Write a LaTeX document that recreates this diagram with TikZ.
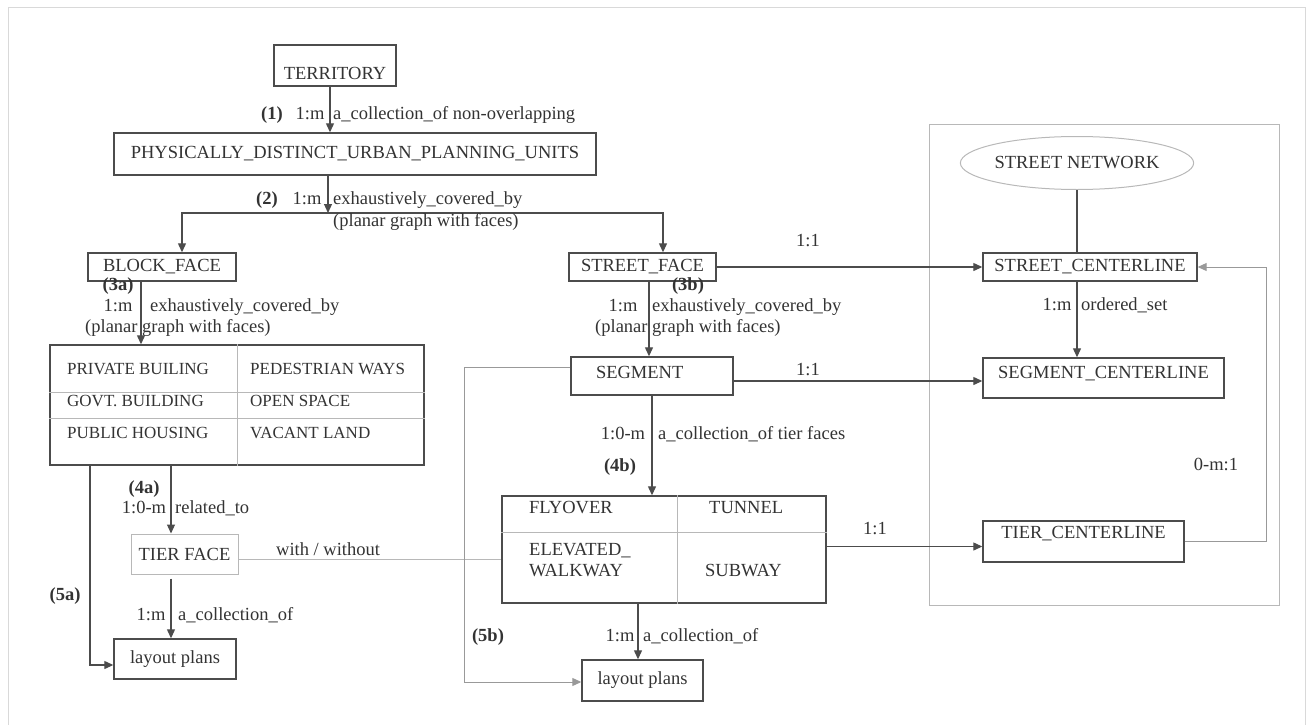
\documentclass[tikz,border=0pt]{standalone}
\usepackage{fontspec}
\setmainfont{Liberation Serif}
\usetikzlibrary{arrows.meta,shapes.geometric,positioning,calc}

\definecolor{boxline}{gray}{0.3}
\definecolor{paleline}{gray}{0.72}
\definecolor{inktext}{gray}{0.2}

\begin{document}
\begin{tikzpicture}[x=1pt, y=-1pt, font=\fontsize{18.5}{21}\selectfont, text=inktext,
    box/.style={rectangle, draw=boxline, line width=1.4pt, inner sep=0pt},
    palebox/.style={rectangle, draw=paleline, line width=1pt, inner sep=0pt},
    lbl/.style={inner sep=0pt, text height=1.5ex, text depth=.25ex},
    num/.style={lbl, font=\fontsize{18.5}{21}\selectfont\bfseries},
    cell/.style={lbl, anchor=west},
    arr/.style={draw=boxline, line width=1.2pt, -{Triangle[length=9pt,width=8pt]}},
    palearr/.style={draw=black!40, line width=1pt, -{Triangle[length=9pt,width=8pt]}},
    greyline/.style={draw=paleline, line width=1pt}]

    \useasboundingbox (0,0) rectangle (1306,725);
    \draw[draw=black!15, line width=1pt] (8,725) -- (8,8) -- (1305,8) -- (1305,725);

    % Top of the hierarchy
    \node[box, minimum width=122pt, minimum height=41pt, text height=27pt, text depth=0pt] (territory) at (335,65.5) {TERRITORY};
    \node[box, minimum width=482pt, minimum height=42pt] (physunits) at (355,154) {PHYSICALLY\_DISTINCT\_URBAN\_PLANNING\_UNITS};
    \node[box, minimum width=148pt, minimum height=28pt] (blockface) at (162,267) {BLOCK\_FACE};
    \node[box, minimum width=147pt, minimum height=28pt] (streetface) at (642.5,267) {STREET\_FACE};
    \node[box, minimum height=38pt, text height=12.5pt, text depth=8.3pt, text width=112pt, inner xsep=25pt, align=left] (segment) at (652,376) {SEGMENT};

    % Street network frame
    \node[palebox, minimum width=350pt, minimum height=481pt] (netframe) at (1104,364.5) {};
    \node[ellipse, draw=paleline, line width=1pt, minimum width=214pt, minimum height=53pt, inner sep=0pt] (streetnet) at (1077,163) {STREET NETWORK};
    \node[box, minimum width=214pt, minimum height=28pt] (streetcl) at (1090,267) {STREET\_CENTERLINE};
    \node[box, minimum width=241pt, minimum height=40pt, text height=13pt, text depth=13pt] (segcl) at (1103.5,378) {SEGMENT\_CENTERLINE};
    \node[box, minimum width=201pt, minimum height=41pt, inner ysep=2pt, text height=12.5pt, text depth=19.3pt] (tiercl) at (1083.5,541.5) {TIER\_CENTERLINE};

    % Block side table
    \node[box, minimum width=374pt, minimum height=120pt] (landuse) at (237,405) {};
    \draw[greyline] ($(landuse.north west)+(188,0)$) -- ($(landuse.south west)+(188,0)$);
    \draw[greyline] ($(landuse.north west)+(0,48)$) -- ($(landuse.north east)+(0,48)$);
    \draw[greyline] ($(landuse.north west)+(0,74)$) -- ($(landuse.north east)+(0,74)$);
    \begin{scope}[every node/.append style={font=\fontsize{17}{20}\selectfont}]
    \node[cell] (private) at (67,372) {PRIVATE BUILING};
    \node[cell] (pedestrian) at (250,372) {PEDESTRIAN WAYS};
    \node[cell] (govt) at (67,404) {GOVT. BUILDING};
    \node[cell] (openspace) at (250,404) {OPEN SPACE};
    \node[cell] (housing) at (67,436) {PUBLIC HOUSING};
    \node[cell] (vacant) at (250,436) {VACANT LAND};
    \end{scope}

    \node[palebox, minimum width=107pt, minimum height=40pt] (tierface) at (184.5,554) {TIER FACE};
    \node[box, minimum width=122pt, minimum height=40pt] (plansa) at (175,659) {layout plans};

    % Street side table
    \node[box, minimum width=324pt, minimum height=107pt] (tiers) at (664,549.5) {};
    \draw[greyline] ($(tiers.north west)+(176,0)$) -- ($(tiers.south west)+(176,0)$);
    \draw[greyline] ($(tiers.north west)+(0,37)$) -- ($(tiers.north east)+(0,37)$);
    \node[cell] (flyover) at (529,511) {FLYOVER};
    \node[cell] (tunnel) at (709,511) {TUNNEL};
    \node[cell] (elevated) at (529,553) {ELEVATED\_};
    \node[cell] (walkway) at (529,574) {WALKWAY};
    \node[cell] (subway) at (705,574) {SUBWAY};
    \node[box, minimum width=121pt, minimum height=41pt] (plansb) at (642.5,680.5) {layout plans};

    % Arrows
    \coordinate (split) at (328,213);
    \coordinate (loopback) at (1266,0);
    \coordinate (bypassa) at (90,665);
    \coordinate (bypassb) at (464,682);
    \draw[arr] ([xshift=-5pt]territory.south) -- ([xshift=-5pt]territory.south |- physunits.north);
    \draw[arr] (physunits.south -| split) -- (split);
    \draw[arr] (split) -| ([xshift=20pt]blockface.north);
    \draw[arr] (split) -| ([xshift=20.5pt]streetface.north);
    \draw[arr] ([xshift=-21pt]blockface.south) -- ([xshift=-21pt]blockface.south |- landuse.north);
    \draw[arr] ([xshift=6.5pt]streetface.south) -- ([xshift=6.5pt]streetface.south |- segment.north);
    \draw[arr] (streetface.east) -- (streetface.east -| streetcl.west);
    \draw[draw=boxline, line width=1.2pt] (streetnet.south) -- (streetnet.south |- streetcl.north);
    \draw[arr] (streetnet.south |- streetcl.south) -- (streetnet.south |- segcl.north);
    \draw[arr] ([yshift=-5pt]segment.east) -- ([yshift=-5pt]segment.east -| segcl.west);
    \draw[arr] (segment.south) -- (segment.south |- tiers.north);
    \draw[arr] ([yshift=3pt]tiers.east) -- ([yshift=3pt]tiers.east -| tiercl.west);
    \draw[palearr] (tiercl.east) -- (tiercl.east -| loopback) -- (loopback |- streetcl.east) -- (streetcl.east);
    \draw[arr] (landuse.south -| bypassa) -- (bypassa) -- (bypassa -| plansa.west);
    \draw[arr] ([xshift=-13.5pt]tierface.north |- landuse.south) -- ([xshift=-13.5pt]tierface.north);
    \draw[arr] ([xshift=-13.5pt,yshift=-4pt]tierface.south) -- ([xshift=-13.5pt]tierface.south |- plansa.north);
    \draw[greyline] ([yshift=-5pt]tierface.east) -- ([yshift=-5pt]tierface.east -| tiers.west);
    \draw[palearr] ([yshift=9pt]segment.west) -- ([yshift=9pt]segment.west -| bypassb) -- (bypassb) -- (bypassb -| plansb.west);
    \draw[arr] ([xshift=-4.5pt]plansb.north |- tiers.south) -- ([xshift=-4.5pt]plansb.north);

    % Labels
    \node[num] (n1) at (272,117) {(1)};
    \node[lbl] (c1) at (310,117) {1:m};
    \node[cell] (r1) at (333,117) {a\_collection\_of non-overlapping};
    \node[num] (n2) at (267,202) {(2)};
    \node[lbl] (c2) at (307,202) {1:m};
    \node[cell] (r2) at (333,202) {exhaustively\_covered\_by};
    \node[cell] (p2) at (333,224) {(planar graph with faces)};
    \node[num] (n3a) at (118,288) {(3a)};
    \node[lbl] (c3a) at (118,309) {1:m};
    \node[cell] (r3a) at (150,309) {exhaustively\_covered\_by};
    \node[cell] (p3a) at (85,330) {(planar graph with faces)};
    \node[num] (n3b) at (688,288) {(3b)};
    \node[lbl] (c3b) at (623,309) {1:m};
    \node[cell] (r3b) at (652,309) {exhaustively\_covered\_by};
    \node[cell] (p3b) at (595,330) {(planar graph with faces)};
    \node[lbl] (o1) at (808,244) {1:1};
    \node[lbl] (o2) at (808,373) {1:1};
    \node[lbl] (o3) at (875,532) {1:1};
    \node[lbl] (cs) at (1057,308) {1:m};
    \node[cell] (rs) at (1081,308) {ordered\_set};
    \node[lbl] (cl) at (1216,468) {0-m:1};
    \node[num] (n4a) at (144,491) {(4a)};
    \node[lbl] (c4a) at (144,511) {1:0-m};
    \node[cell] (r4a) at (175,511) {related\_to};
    \node[lbl] (c5a) at (151,618) {1:m};
    \node[cell] (r5a) at (178,618) {a\_collection\_of};
    \node[num] (n5a) at (65,598) {(5a)};
    \node[cell] (ww) at (276,553) {with / without};
    \node[lbl] (c4b) at (623,437) {1:0-m};
    \node[cell] (r4b) at (658,437) {a\_collection\_of tier faces};
    \node[num] (n4b) at (620,469) {(4b)};
    \node[lbl] (c5b) at (620,639) {1:m};
    \node[cell] (r5b) at (643,639) {a\_collection\_of};
    \node[num] (n5b) at (488,639) {(5b)};

\end{tikzpicture}
\end{document}
